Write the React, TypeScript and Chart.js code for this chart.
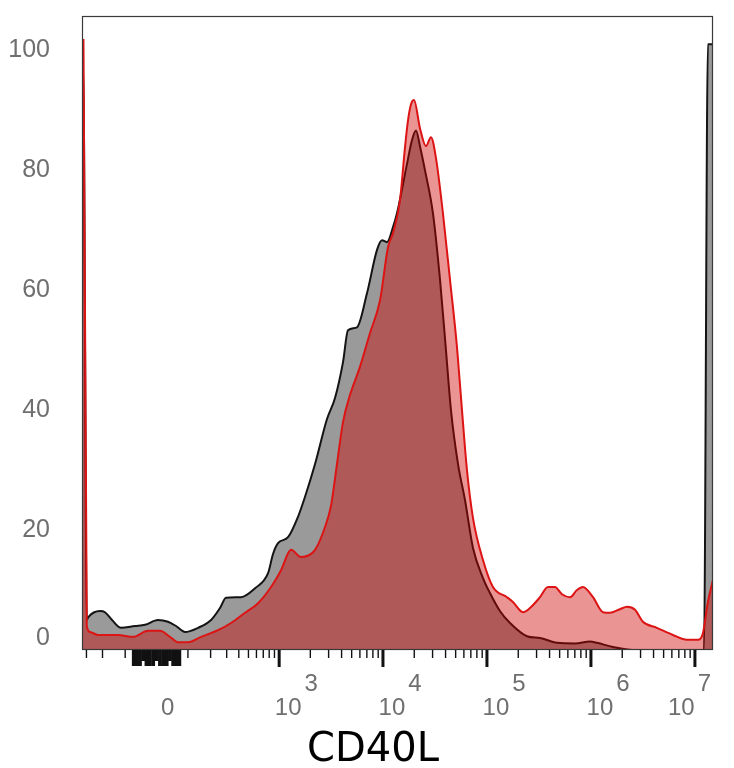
import React, { useEffect, useRef } from "react";
import { Chart, registerables } from "chart.js";

Chart.register(...registerables);

// ---- data (x in biexponential display units: decades; y = % of max) ----
const blackX = [1.144, 1.156, 1.19, 1.205, 1.317, 1.365, 1.433, 1.519, 1.654, 1.75, 1.875, 1.971, 2.048, 2.135, 2.26, 2.385, 2.471, 2.529, 2.673, 2.808, 2.933, 2.981, 3.029, 3.125, 3.221, 3.288, 3.385, 3.5, 3.577, 3.654, 3.702, 3.788, 3.885, 3.981, 4.029, 4.077, 4.135, 4.173, 4.269, 4.317, 4.356, 4.394, 4.442, 4.519, 4.587, 4.644, 4.692, 4.76, 4.827, 4.904, 5.0, 5.067, 5.163, 5.26, 5.423, 5.548, 5.712, 5.885, 6.029, 6.096, 6.25, 6.442, 7.125, 7.163, 7.212];
const blackY = [97, 97, 5, 5.5, 6.5, 6.3, 5, 3.7, 4, 4.2, 5, 4.7, 4, 3, 3.7, 5, 7, 8.7, 8.8, 10.3, 12.8, 16, 17.8, 18.8, 22.2, 25.5, 31, 38.5, 42, 48, 53.3, 53.8, 59.5, 66.7, 68.3, 68, 70.5, 72.8, 81, 85, 86.6, 84, 80, 72.8, 61.7, 50, 40, 31, 25, 17, 12, 9.5, 6.5, 4.5, 2.3, 2, 1.2, 1.1, 1.4, 1.2, 0.5, 0, 0, 101, 101];

const redX = [1.144, 1.158, 1.19, 1.221, 1.298, 1.49, 1.635, 1.779, 1.894, 1.99, 2.067, 2.163, 2.288, 2.452, 2.577, 2.712, 2.837, 2.962, 3.058, 3.154, 3.25, 3.385, 3.481, 3.538, 3.596, 3.654, 3.721, 3.817, 3.913, 4.01, 4.087, 4.135, 4.202, 4.25, 4.279, 4.308, 4.337, 4.394, 4.452, 4.5, 4.548, 4.615, 4.683, 4.75, 4.798, 4.846, 4.904, 5.0, 5.096, 5.231, 5.288, 5.385, 5.452, 5.548, 5.625, 5.692, 5.76, 5.837, 5.904, 5.962, 6.058, 6.154, 6.221, 6.317, 6.385, 6.462, 6.538, 6.673, 6.827, 6.962, 7.067, 7.115, 7.163, 7.212];
const redY = [101.7, 101.7, 4, 3, 2.5, 2.5, 2.2, 3.2, 3.2, 2.2, 1.3, 1.3, 2.2, 3.3, 4.5, 6.2, 7.8, 10.5, 13.3, 16.7, 15.5, 16.7, 20.5, 24, 31, 38, 42.5, 47.2, 52.8, 58.3, 67.2, 69.5, 75, 83.8, 88.3, 91, 91.7, 87, 84, 85.5, 82, 72.8, 61.7, 50.5, 40, 30, 22, 15, 10.5, 8.8, 8, 6.3, 7, 8.8, 10.5, 10.5, 9.3, 8.8, 10, 10.5, 8.8, 6.3, 6.2, 6.8, 7.2, 6.7, 4.7, 3.7, 2.5, 1.7, 1.7, 2.8, 8, 11.7];

// ---- axis description ----
const X_MIN = 1.144;
const X_MAX = 7.212;
const Y_MIN = 0;
const Y_MAX = 105.7;
const yTickValues = [0, 20, 40, 60, 80, 100];
const xTitle = "CD40L";
const zeroLabel = "0";
const majorValues = [1e3, 1e4, 1e5, 1e6, 1e7];
const majorExponents = ["3", "4", "5", "6", "7"];
const negativeMinor = [-300, -200, -100];
const zeroCluster = [-70, -60, -50, -40, -30, -20, -10, 0, 10, 20, 30, 40, 50, 60, 70];
const minorMultipliers = [2, 3, 4, 5, 6, 7, 8, 9];
const minorDecades = [100, 1e3, 1e4, 1e5, 1e6];

// biexponential (arcsinh) transform from fluorescence value to display units
const ZERO_POS = 1.861;
const LIN_WIDTH = 133;
const T = (v: number) => ZERO_POS + Math.asinh(v / LIN_WIDTH) / Math.LN10;

const flowAxes = {
  id: "flowAxes",
  afterDatasetsDraw(chart: any) {
    const { ctx, chartArea: a, scales } = chart;
    const xs = scales.x;
    const ys = scales.y;
    ctx.save();

    // frame
    ctx.strokeStyle = "#3a3a3a";
    ctx.lineWidth = 1.2;
    ctx.strokeRect(a.left + 0.5, a.top + 0.5, a.right - a.left - 1, a.bottom - a.top - 1);

    const tick = (v: number, len: number, w: number) => {
      const px = xs.getPixelForValue(T(v));
      ctx.beginPath();
      ctx.lineWidth = w;
      ctx.strokeStyle = "#111";
      ctx.moveTo(px, a.bottom);
      ctx.lineTo(px, a.bottom + len);
      ctx.stroke();
    };

    negativeMinor.forEach((v) => tick(v, 8, 1.4));
    zeroCluster.forEach((v, i) => tick(v, i % 4 === 3 ? 11 : 16, 3.8));
    minorDecades.forEach((d) => {
      minorMultipliers.forEach((m) => tick(m * d, 8, 1.4));
    });
    minorDecades.forEach((d) => tick(d, 8, 1.4));
    majorValues.forEach((v) => tick(v, 17, 3));

    // y labels
    ctx.fillStyle = "#6f6f6f";
    ctx.font = "25px 'Liberation Sans', Arial, sans-serif";
    ctx.textAlign = "right";
    ctx.textBaseline = "middle";
    yTickValues.forEach((v) => {
      let py = ys.getPixelForValue(v);
      if (v === 0) py -= 12;
      ctx.fillText(String(v), a.left - 32, py);
    });

    // x labels
    ctx.font = "24px 'Liberation Sans', Arial, sans-serif";
    ctx.textAlign = "center";
    ctx.textBaseline = "middle";
    const baseY = a.bottom + 58;
    const supY = a.bottom + 34;
    ctx.fillText(zeroLabel, xs.getPixelForValue(T(0)) + 11, baseY);
    majorValues.forEach((v, i) => {
      const px = xs.getPixelForValue(T(v));
      let baseC = px + 9;
      let supC = px + 32;
      const supW = ctx.measureText(majorExponents[i]).width;
      const overflow = supC + supW / 2 - (a.right - 2);
      if (overflow > 0) {
        baseC -= overflow;
        supC -= overflow;
      }
      ctx.fillText("10", baseC, baseY);
      ctx.fillText(majorExponents[i], supC, supY);
    });

    // axis title
    ctx.fillStyle = "#000";
    ctx.font = "40px 'DejaVu Sans', sans-serif";
    ctx.textBaseline = "alphabetic";
    ctx.fillText(xTitle, chart.width / 2 + 6, 761);

    ctx.restore();
  },
};

export default function App() {
  const ref = useRef<HTMLCanvasElement | null>(null);

  useEffect(() => {
    document.body.style.margin = "0";
    const canvas = ref.current;
    if (!canvas) return;
    const toPts = (xsArr: number[], ysArr: number[]) => xsArr.map((x, i) => ({ x, y: ysArr[i] }));
    const chart = new Chart(canvas, {
      type: "line",
      data: {
        datasets: [
          {
            label: "Stim",
            data: toPts(redX, redY),
            borderColor: "#dc1414",
            borderWidth: 2,
            backgroundColor: "rgba(207,0,0,0.42)",
            fill: "origin",
            pointRadius: 0,
            cubicInterpolationMode: "monotone",
            order: 0,
          },
          {
            label: "Control",
            data: toPts(blackX, blackY),
            borderColor: "#141414",
            borderWidth: 2,
            backgroundColor: "#9a9a9a",
            fill: "origin",
            pointRadius: 0,
            cubicInterpolationMode: "monotone",
            order: 1,
          },
        ],
      },
      options: {
        animation: false,
        responsive: false,
        devicePixelRatio: 1,
        layout: { padding: { left: 82, right: 21, top: 16, bottom: 118 } },
        plugins: { legend: { display: false }, tooltip: { enabled: false } },
        scales: {
          x: { type: "linear", min: X_MIN, max: X_MAX, display: false },
          y: { type: "linear", min: Y_MIN, max: Y_MAX, display: false },
        },
      },
      plugins: [flowAxes],
    });
    return () => chart.destroy();
  }, []);

  return (
    <div style={{ width: 734, height: 768, background: "#fff" }}>
      <canvas ref={ref} width={734} height={768} />
    </div>
  );
}
